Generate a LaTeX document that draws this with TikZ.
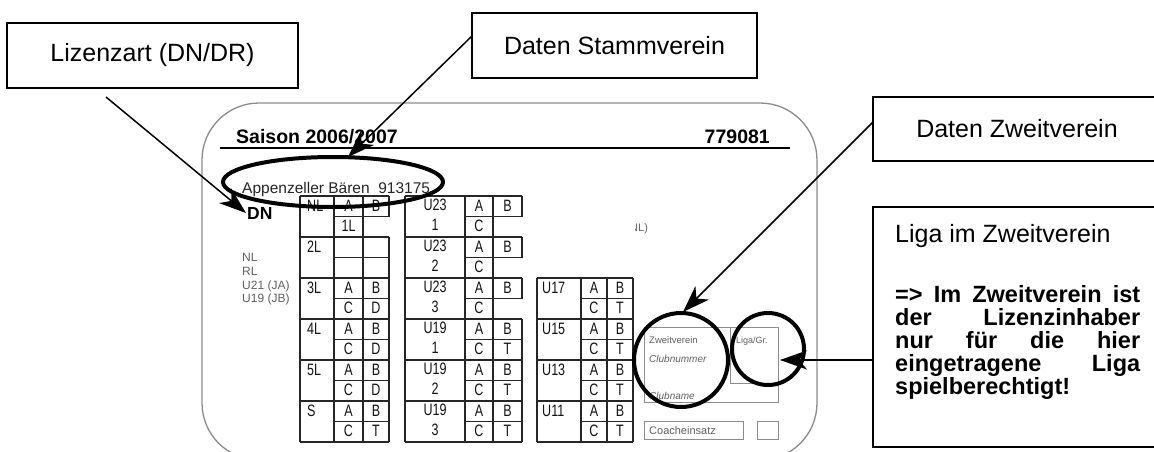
\documentclass[tikz,border=0pt]{standalone}
\usepackage{fontspec}
\setmainfont{Liberation Sans}
\newfontfamily\narrowf[FakeStretch=0.76]{Liberation Sans}
\usetikzlibrary{arrows.meta}
\tikzset{
  callbox/.style={draw=black, line width=1.6pt, inner sep=0pt, font=\fontsize{25}{30}\selectfont},
  conn/.style={line width=1.5pt, -{Stealth[length=27pt,width=19pt,inset=8pt]}},
  hilite/.style={draw=black, line width=4pt},
  gridline/.style={draw=black!85, line width=1.1pt},
  tt/.style={font=\narrowf\fontsize{16.5}{16.5}\selectfont, inner sep=0pt, text=black!92},
  formtxt/.style={text=black!62, inner sep=0pt},
  formbox/.style={draw=black!45, line width=0.8pt},
}
\begin{document}
\begin{tikzpicture}[x=1pt,y=-1pt]
\clip (0,0) rectangle (1154,452);
\fill[white] (0,0) rectangle (1154,452);

% card
\draw[black!45, line width=1.3pt, rounded corners=57pt] (202,103) rectangle (817,460);
\node[anchor=base west, inner sep=0pt, font=\bfseries\fontsize{19.5}{19.5}\selectfont] (saison) at (236,143) {Saison 2006/2007};
\node[anchor=base east, inner sep=0pt, font=\bfseries\fontsize{19.5}{19.5}\selectfont] (nummer) at (770,143) {779081};
\draw[line width=2pt] (220,148) -- (790,148);
\node[anchor=base west, inner sep=0pt, font=\fontsize{15.5}{15.5}\selectfont, text=black!85] (verein) at (242,193) {Appenzeller Bären\ \ 913175};
\node[anchor=base west, inner sep=0pt, font=\bfseries\fontsize{17.5}{17.5}\selectfont] (dn) at (247,219) {DN};
\node[formtxt, anchor=base west, font=\fontsize{12}{12}\selectfont] (l1) at (242,261) {NL};
\node[formtxt, anchor=base west, font=\fontsize{12}{12}\selectfont] (l2) at (242,275) {RL};
\node[formtxt, anchor=base west, font=\fontsize{12}{12}\selectfont] (l3) at (242,289) {U21 (JA)};
\node[formtxt, anchor=base west, font=\fontsize{12}{12}\selectfont] (l4) at (242,302) {U19 (JB)};
\begin{scope}
\clip (635,210) rectangle (665,240);
\node[formtxt, anchor=base west, font=\fontsize{11}{11}\selectfont] (nlr) at (630,231) {NL)};
\end{scope}

% table 1
\foreach \r in {0,...,6} \draw[gridline] (300,{196+41*\r}) -- (389,{196+41*\r});
\foreach \r in {0,...,5} \draw[gridline] (334,{216.5+41*\r}) -- (389,{216.5+41*\r});
\draw[gridline] (300,196) -- (300,442);
\draw[gridline] (334,196) -- (334,442);
\draw[gridline] (363,196) -- (363,442);
\draw[gridline] (389,196) -- (389,216.5);
\draw[gridline] (389,237) -- (389,442);
\foreach \lab [count=\i from 0] in {NL,2L,3L,4L,5L,S}
  \node[tt, anchor=base west] (ta\i) at (307,{196+41*\i+15}) {\lab};
\node[tt] (t1a0) at (348.5,205.5) {A};
\node[tt] (t1b0) at (376,205.5) {B};
\node[tt] (t1c0) at (348.5,226) {1L};
\foreach \i/\d in {2/D,3/D,4/D,5/T} {
  \node[tt] (t1a\i) at (348.5,{205.5+41*\i}) {A};
  \node[tt] (t1b\i) at (376,{205.5+41*\i}) {B};
  \node[tt] (t1c\i) at (348.5,{226+41*\i}) {C};
  \node[tt] (t1d\i) at (376,{226+41*\i}) {\d};
}

% table 2
\foreach \r in {0,...,6} \draw[gridline] (405,{196+41*\r}) -- (522,{196+41*\r});
\foreach \r in {0,...,5} \draw[gridline] (465,{216.5+41*\r}) -- (522,{216.5+41*\r});
\draw[gridline] (405,196) -- (405,442);
\draw[gridline] (465,196) -- (465,442);
\draw[gridline] (493,196) -- (493,442);
\foreach \r in {0,1,2} \draw[gridline] (522,{196+41*\r}) -- (522,{216.5+41*\r});
\draw[gridline] (522,319) -- (522,442);
\foreach \u/\n [count=\i from 0] in {U23/1,U23/2,U23/3,U19/1,U19/2,U19/3} {
  \node[tt] (t2u\i) at (435,{205+41*\i}) {\u};
  \node[tt] (t2n\i) at (435,{225+41*\i}) {\n};
  \node[tt] (t2a\i) at (479,{205.5+41*\i}) {A};
  \node[tt] (t2b\i) at (507.5,{205.5+41*\i}) {B};
  \node[tt] (t2c\i) at (479,{226+41*\i}) {C};
}
\foreach \i in {3,4,5} \node[tt] (t2t\i) at (507.5,{226+41*\i}) {T};

% table 3
\foreach \r in {0,...,4} \draw[gridline] (537,{278+41*\r}) -- (633,{278+41*\r});
\foreach \r in {0,...,3} \draw[gridline] (581,{298.5+41*\r}) -- (633,{298.5+41*\r});
\foreach \x in {537,581,607,633} \draw[gridline] (\x,278) -- (\x,442);
\foreach \lab [count=\i from 0] in {U17,U15,U13,U11} {
  \node[tt, anchor=base west] (t3u\i) at (542,{278+41*\i+15}) {\lab};
  \node[tt] (t3a\i) at (594,{287.5+41*\i}) {A};
  \node[tt] (t3b\i) at (620,{287.5+41*\i}) {B};
  \node[tt] (t3c\i) at (594,{308+41*\i}) {C};
  \node[tt] (t3t\i) at (620,{308+41*\i}) {T};
}

% Zweitverein form part
\draw[formbox] (644,327) rectangle (778,402);
\draw[formbox] (730,327) rectangle (778,383);
\node[formtxt, anchor=base west, font=\fontsize{9.5}{9.5}\selectfont] (zv) at (649,343) {Zweitverein};
\node[formtxt, anchor=base west, font=\itshape\fontsize{10}{10}\selectfont] (cnr) at (649,362) {Clubnummer};
\node[formtxt, anchor=base west, font=\itshape\fontsize{10}{10}\selectfont] (cnm) at (649,399) {Clubname};
\node[formtxt, anchor=base west, font=\fontsize{9}{9}\selectfont] (lg) at (736,343) {Liga/Gr.};
\draw[formbox] (644,421) rectangle (743,439);
\node[formtxt, anchor=base west, font=\fontsize{11}{11}\selectfont] (coach) at (649,434.5) {Coacheinsatz};
\draw[formbox] (757,421) rectangle (778,439);

% highlights
\draw[hilite] (333,182) ellipse [x radius=110pt, y radius=25pt];
\draw[hilite] (681,360) circle [radius=47pt];
\draw[hilite] (768,349) circle [radius=36pt];

% callouts
\node[callbox, minimum width=291pt, minimum height=65pt] (liz) at (152.5,55.5) {Lizenzart (DN/DR)};
\node[callbox, minimum width=285pt, minimum height=65pt] (stamm) at (614.5,45.5) {Daten Stammverein};
\node[callbox, minimum width=288pt, minimum height=64pt] (zweit) at (1017,129) {Daten Zweitverein};
\node[callbox, minimum width=288pt, minimum height=240pt] (liga) at (1017,327) {};
\node[anchor=base west, inner sep=0pt, font=\fontsize{25}{30}\selectfont] (ligat) at (895,242) {Liga im Zweitverein};
\node[anchor=base west, inner sep=0pt, font=\bfseries\fontsize{23.5}{23}\selectfont] (ligatxt) at (895,302)
  {\parbox[t]{245pt}{\hbadness=10000\relax => Im Zweitverein ist\linebreak der Lizenzinhaber\linebreak nur für die hier\linebreak eingetragene Liga\linebreak spielberechtigt!}};

% connectors
\coordinate (s1) at (106,97);
\coordinate (e1) at (246,213);
\coordinate (s2) at (472,36);
\coordinate (e2) at (348,157);
\coordinate (s3) at (873,122);
\coordinate (e3) at (683,312);
\coordinate (e4) at (780,360);
\draw[conn] (s1) -- (e1);
\draw[conn] (s2) -- (e2);
\draw[conn] (s3) -- (e3);
\draw[conn] (liga.west |- e4) -- (e4);
\end{tikzpicture}
\end{document}
